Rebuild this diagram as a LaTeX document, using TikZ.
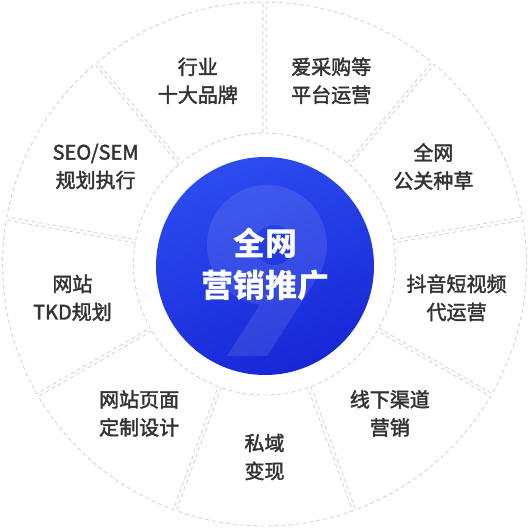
\documentclass[tikz,border=0pt]{standalone}
\usepackage{fontspec}
\usepackage{xcolor}
\usetikzlibrary{calc}
\setmainfont{Noto Sans CJK SC}
\newfontfamily\cjkmid{Noto Sans CJK SC}[FakeBold=2]
\definecolor{labelgray}{HTML}{333333}
\definecolor{ringgray}{HTML}{D4D4D4}
\definecolor{bluetop}{HTML}{2C4CF0}
\definecolor{bluebottom}{HTML}{1727D6}

\newcommand{\ringin}{131}
\newcommand{\ringout}{262}
\newcommand{\sgap}{1.6}

\tikzset{
  sector/.style={draw=ringgray,line width=0.9pt,dash pattern=on 4pt off 3pt},
  itemtext/.style={text=labelgray,align=center,font=\cjkmid\fontsize{20}{28}\selectfont},
  hubtext/.style={text=white,align=center,font=\fontsize{32}{42}\selectfont\bfseries}
}

\begin{document}
\begin{tikzpicture}[x=1pt,y=1pt]
\useasboundingbox (-264.5,-264) rectangle (264.5,264);
% ring of nine sectors
\foreach \a in {10,50,...,330}{
  \draw[sector] ({\a+asin(\sgap/\ringin)}:\ringin) -- ({\a+asin(\sgap/\ringout)}:\ringout)
    arc[start angle={\a+asin(\sgap/\ringout)},end angle={\a+40-asin(\sgap/\ringout)},radius=\ringout]
    -- ({\a+40-asin(\sgap/\ringin)}:\ringin)
    arc[start angle={\a+40-asin(\sgap/\ringin)},end angle={\a+asin(\sgap/\ringin)},radius=\ringin] -- cycle;
}
% hub with the big 9 behind the text
\shade[top color=bluetop,bottom color=bluebottom,shading angle=20] (0.5,-2) circle[radius=109];
\fill[white,opacity=0.1,even odd rule] (2.5,-92) -- ([shift={(2.5,19)}]-32.7:60)
  arc[start angle=-32.7,end angle=263.3,radius=60] -- (-37.5,-92) -- cycle
  (9.5,19) circle[radius=20];
\node[hubtext] (hub) at (0.5,0) {全网\\营销推广};
% labels
\node[itemtext] (brand) at (110:195) {行业\\十大品牌};
\node[itemtext] (platform) at (70:195) {爱采购等\\平台运营};
\node[itemtext] (pr) at (30:195) {全网\\公关种草};
\node[itemtext] (video) at (350:195) {抖音短视频\\代运营};
\node[itemtext] (offline) at (310:195) {线下渠道\\营销};
\node[itemtext] (private) at (270:193) {私域\\变现};
\node[itemtext] (webpage) at (230:195) {网站页面\\定制设计};
\node[itemtext] (tkd) at (190:195) {网站\\TKD规划};
\node[itemtext] (seo) at (150:195) {SEO/SEM\\规划执行};
\end{tikzpicture}
\end{document}
